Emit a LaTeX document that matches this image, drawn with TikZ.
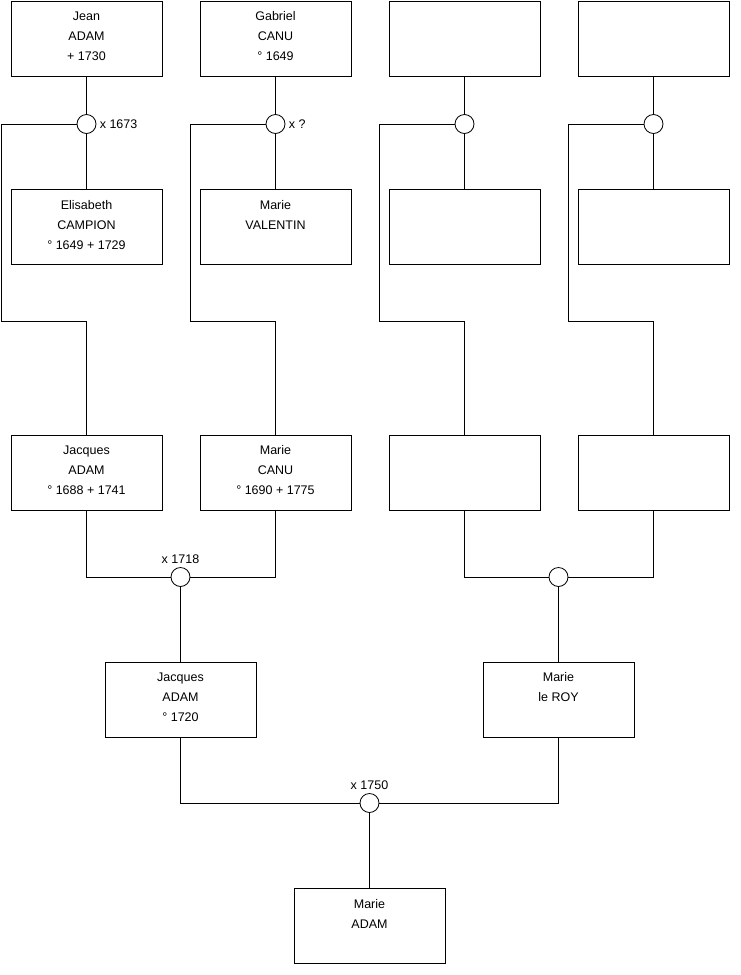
\documentclass[tikz,border=0pt]{standalone}
\usepackage{fontspec}
\setmainfont{Liberation Sans}
\usetikzlibrary{positioning}

\begin{document}
\begin{tikzpicture}[
  x=1pt, y=-1pt,
  box/.style={rectangle, draw, minimum width=151, minimum height=75, inner sep=0},
  who/.style={anchor=north, align=center, inner xsep=0, inner ysep=10.5,
              font=\fontsize{12.5}{20}\selectfont},
  person/.style={box, label={[who]north:{#1}}},
  wed/.style={circle, draw, fill=white, minimum size=19, inner sep=0},
  date/.style={font=\fontsize{12.5}{15}\selectfont, inner sep=3},
  line width=0.8pt,
]
  \useasboundingbox (0,0) rectangle (740,975);

  % great-grandparents
  \node[person={Jean\\ADAM\\+ 1730}] (jean) at (86.5,38.5) {};
  \node[person={Gabriel\\CANU\\° 1649}] (gabriel) at (275.5,38.5) {};
  \node[box] (ggp3) at (464.5,38.5) {};
  \node[box] (ggp4) at (653.5,38.5) {};

  \node[wed] (w1) at (86.5,124) {};
  \node[wed] (w2) at (275.5,124) {};
  \node[wed] (w3) at (464.5,124) {};
  \node[wed] (w4) at (653.5,124) {};
  \node[date, right=0pt of w1] (d1) {x 1673};
  \node[date, right=0pt of w2] (d2) {x ?};

  \node[person={Elisabeth\\CAMPION\\° 1649 + 1729}] (elisabeth) at (86.5,227) {};
  \node[person={Marie\\VALENTIN}] (valentin) at (275.5,227) {};
  \node[box] (ggm3) at (464.5,227) {};
  \node[box] (ggm4) at (653.5,227) {};

  % grandparents
  \node[person={Jacques\\ADAM\\° 1688 + 1741}] (jacques1) at (86.5,472.5) {};
  \node[person={Marie\\CANU\\° 1690 + 1775}] (mariecanu) at (275.5,472.5) {};
  \node[box] (gp3) at (464.5,472.5) {};
  \node[box] (gp4) at (653.5,472.5) {};

  \node[wed] (w5) at (180.5,577) {};
  \node[wed] (w6) at (558.5,577) {};
  \node[date, above=0pt of w5] (d5) {x 1718};

  % parents
  \node[person={Jacques\\ADAM\\° 1720}] (jacques2) at (180.5,699.5) {};
  \node[person={Marie\\le ROY}] (leroy) at (558.5,699.5) {};

  \node[wed] (w7) at (369.5,803) {};
  \node[date, above=0pt of w7] (d7) {x 1750};

  \node[person={Marie\\ADAM}] (marie) at (369.5,926) {};

  \draw (jean) -- (w1) -- (elisabeth);
  \draw (gabriel) -- (w2) -- (valentin);
  \draw (ggp3) -- (w3) -- (ggm3);
  \draw (ggp4) -- (w4) -- (ggm4);

  \draw (w1.west) -| (1.5,321) -| (jacques1.north);
  \draw (w2.west) -| (190.5,321) -| (mariecanu.north);
  \draw (w3.west) -| (379.5,321) -| (gp3.north);
  \draw (w4.west) -| (568.5,321) -| (gp4.north);

  \draw (jacques1.south) |- (w5.west);
  \draw (mariecanu.south) |- (w5.east);
  \draw (gp3.south) |- (w6.west);
  \draw (gp4.south) |- (w6.east);
  \draw (w5) -- (jacques2);
  \draw (w6) -- (leroy);

  \draw (jacques2.south) |- (w7.west);
  \draw (leroy.south) |- (w7.east);
  \draw (w7) -- (marie);
\end{tikzpicture}
\end{document}
